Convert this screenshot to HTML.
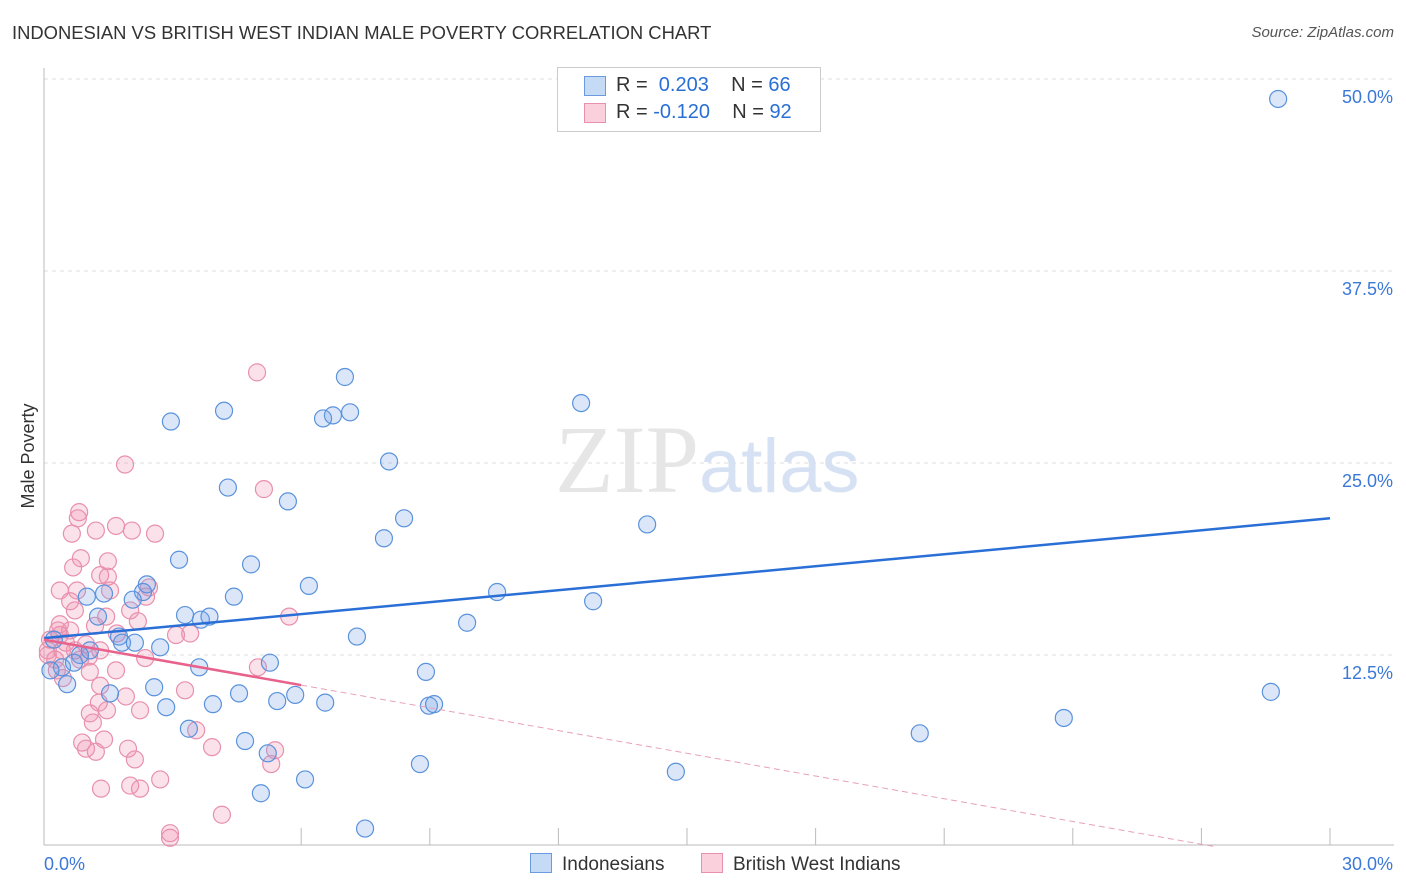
<!DOCTYPE html>
<html><head><meta charset="utf-8"><style>
body{margin:0;background:#fff;font-family:"Liberation Sans",sans-serif;}
#wrap{position:relative;width:1406px;height:892px;}
.t{position:absolute;white-space:nowrap;}
</style></head><body><div id="wrap">
<div class="t" style="left:12px;top:22px;font-size:18.4px;color:#333;">INDONESIAN VS BRITISH WEST INDIAN MALE POVERTY CORRELATION CHART</div>
<div class="t" style="right:12px;top:24px;font-size:15px;color:#555;font-style:italic;">Source: ZipAtlas.com</div>
<svg id="svg" width="1406" height="892" style="position:absolute;left:0;top:0"></svg>
</div>
<script>
const xTicks=[0,30];
const yTicks=[12.5,25,37.5,50];
const blueX=[28.79,7.02,4.20,2.96,6.51,6.74,7.14,12.53,8.05,4.29,5.69,8.40,7.93,14.07,3.15,4.83,6.18,2.40,4.43,10.57,12.81,1.00,1.40,2.31,2.07,3.29,3.66,3.86,1.26,9.87,7.30,1.75,1.82,2.12,2.71,1.07,0.84,0.23,5.27,3.62,0.42,0.70,8.91,0.54,2.57,1.54,4.55,5.86,28.62,2.85,3.94,5.44,6.56,8.98,9.10,23.79,20.43,3.38,4.69,5.22,8.77,14.74,6.09,5.06,7.49,0.15];
const blueY=[48.7,30.6,28.4,27.7,27.9,28.1,28.3,28.9,25.1,23.4,22.5,21.4,20.1,21.0,18.7,18.4,17.0,17.1,16.3,16.6,16.0,16.3,16.5,16.6,16.1,15.1,14.8,15.0,15.0,14.6,13.7,13.7,13.3,13.3,13.0,12.8,12.5,13.5,12.0,11.7,11.7,12.0,11.4,10.6,10.4,10.0,10.0,9.9,10.1,9.1,9.3,9.5,9.4,9.2,9.3,8.4,7.4,7.7,6.9,6.1,5.4,4.9,4.4,3.5,1.2,11.5];
const pinkX=[4.97,1.89,5.13,0.82,0.79,1.21,0.65,1.68,2.05,2.59,0.86,1.49,0.68,1.31,1.49,2.45,0.37,0.77,1.54,2.38,0.61,0.72,2.01,5.72,0.37,1.19,1.45,2.19,0.37,0.61,1.70,3.08,3.41,0.98,1.31,1.05,2.36,4.99,1.07,1.68,3.29,1.31,1.91,1.28,1.47,2.24,1.07,1.14,0.89,0.98,1.40,1.96,1.21,2.12,3.55,3.92,5.39,5.30,2.71,1.33,2.01,2.24,4.15,2.94,2.94,0.14,0.09,0.26,0.42,0.33,0.09,0.51,0.72,0.84,0.30,0.44];
const pinkY=[30.9,24.9,23.3,21.8,21.4,20.6,20.4,20.9,20.6,20.4,18.8,18.6,18.2,17.7,17.6,16.9,16.7,16.7,16.7,16.3,16.0,15.4,15.4,15.0,14.5,14.4,15.0,14.7,13.8,14.1,13.9,13.8,13.9,13.2,12.8,12.4,12.3,11.7,11.4,11.5,10.2,10.5,9.8,9.4,8.9,8.9,8.7,8.1,6.8,6.4,7.0,6.4,6.2,5.7,7.6,6.5,6.3,5.4,4.4,3.8,4.0,3.8,2.1,0.9,0.6,13.5,12.8,12.2,12.8,14.1,12.5,13.3,12.8,12.2,11.5,11.0];
const blueTrend=[13.6,21.4];
const pinkTrend=[13.5,-1.3];
const X=v=>44+v/30*1286, Y=v=>847-v/12.5*192;
const svg=document.getElementById('svg');const NS='http://www.w3.org/2000/svg';
function mk(tag,at,parent){const e=document.createElementNS(NS,tag);for(const k in at)e.setAttribute(k,at[k]);(parent||svg).appendChild(e);return e;}
yTicks.forEach(v=>{const g=mk('line',{x1:44,x2:1394,y1:Y(v),y2:Y(v),stroke:'#ddd','stroke-dasharray':'4,4'});


const t=mk('text',{x:1393,y:Y(v)+24,'text-anchor':'end','font-size':18,fill:'#3b78d8','font-family':'Liberation Sans'});t.textContent=v.toFixed(1)+'%';

});
mk('line',{x1:44,x2:44,y1:68,y2:845,stroke:'#bbb'});
mk('line',{x1:44,x2:1394,y1:845,y2:845,stroke:'#bbb'});
for(let i=2;i<=10;i++){mk('line',{x1:X(i*3),x2:X(i*3),y1:828,y2:845,stroke:'#bbb'});}
xTicks.forEach((v,i)=>{const t=mk('text',{x:i?1393:44,y:870,'text-anchor':i?'end':'start','font-size':18,fill:'#3b78d8','font-family':'Liberation Sans'});t.textContent=v.toFixed(1)+'%';

});
const wm=mk('text',{x:555,y:492,'text-anchor':'start','font-size':96,fill:'#e6e6e6','font-family':'Liberation Serif'});wm.innerHTML='ZIP<tspan fill="#d6e2f3" font-family="Liberation Sans" font-size="76">atlas</tspan>';


const yl=mk('text',{x:34,y:456,'text-anchor':'middle','font-size':18,fill:'#333',transform:'rotate(-90 34 456)','font-family':'Liberation Sans'});yl.textContent='Male Poverty';


pinkX.forEach((x,i)=>{const c=mk('circle',{cx:X(x),cy:Y(pinkY[i]),r:8.5,fill:'rgba(240,140,170,0.25)',stroke:'#e890ad','stroke-width':1.2});

});
blueX.forEach((x,i)=>{const c=mk('circle',{cx:X(x),cy:Y(blueY[i]),r:8.5,fill:'rgba(110,160,230,0.25)',stroke:'#5a92dc','stroke-width':1.2});

});
const bl=mk('line',{x1:X(0),y1:Y(blueTrend[0]),x2:X(30),y2:Y(blueTrend[1]),stroke:'#2a6fd6','stroke-width':2.5});


const py=x=>pinkTrend[0]+(pinkTrend[1]-pinkTrend[0])*x/30;
const pl=mk('line',{x1:X(0),y1:Y(py(0)),x2:X(6),y2:Y(py(6)),stroke:'#e8628c','stroke-width':2.5});


const pd=mk('line',{x1:X(6),y1:Y(py(6)),x2:X(27.3),y2:Y(py(27.3)),stroke:'#e8a0b8','stroke-width':1,'stroke-dasharray':'6,4'});


</script>
<div style="position:absolute;left:557px;top:67px;width:262px;height:63px;border:1px solid #ccc;background:#fff;font-size:20px;color:#333;">
<div style="position:absolute;left:26px;top:8px;width:20px;height:18px;background:#c5daf5;border:1px solid #6a9be0"></div>
<div class="t" style="left:58px;top:6px">R = <span style="color:#2a6fd6">&nbsp;0.203</span>&nbsp;&nbsp;&nbsp;&nbsp;N = <span style="color:#2a6fd6">66</span></div>
<div style="position:absolute;left:26px;top:35px;width:20px;height:18px;background:#fad0dc;border:1px solid #e890ad"></div>
<div class="t" style="left:58px;top:33px">R = <span style="color:#2a6fd6">-0.120</span>&nbsp;&nbsp;&nbsp;&nbsp;N = <span style="color:#2a6fd6">92</span></div>
</div>
<div class="t" style="left:530px;top:853px;font-size:19px;color:#333"><span style="display:inline-block;width:20px;height:18px;background:#c5daf5;border:1px solid #6a9be0;vertical-align:-3px;margin-right:10px"></span>Indonesians</div>
<div class="t" style="left:701px;top:853px;font-size:19px;color:#333"><span style="display:inline-block;width:20px;height:18px;background:#fad0dc;border:1px solid #e890ad;vertical-align:-3px;margin-right:10px"></span>British West Indians</div>
</body></html>
